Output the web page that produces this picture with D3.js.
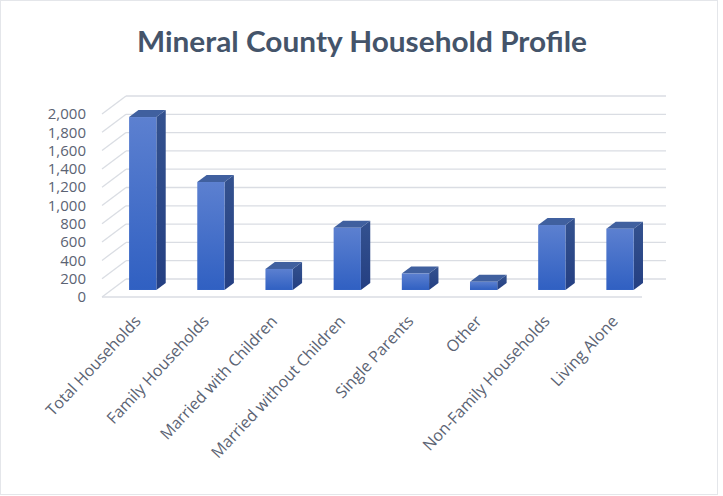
<!DOCTYPE html>
<html>
<head>
<meta charset="utf-8">
<script src="https://cdn.jsdelivr.net/npm/d3@7"></script>
<style>
  html, body { margin: 0; padding: 0; background: #ffffff; }
  svg { display: block; }
</style>
</head>
<body>
<svg id="chart" width="723" height="496"></svg>
<script>
// Household counts by type
const categories = [
  "Total Households", "Family Households", "Married with Children",
  "Married without Children", "Single Parents", "Other",
  "Non-Family Households", "Living Alone"
];
const households = [1890, 1180, 230, 680, 180, 90, 710, 670];
const yTicks = [0, 200, 400, 600, 800, 1000, 1200, 1400, 1600, 1800, 2000];
const titleText = "Mineral County Household Profile";

const W = 723, H = 496;
const svg = d3.select("#chart");

// Oblique projection: the floor's front edge, plus a depth vector to the back wall
const depth = { dx: 24, dy: -18 };
const barFront = 0.39;   // bars start this far into the floor
const barDepth = 0.39;   // and are this deep

const x = d3.scaleBand()
  .domain(categories)
  .range([102, 642])
  .paddingInner(0.6)
  .paddingOuter(0.26);

const y = d3.scaleLinear().domain([0, 2000]).range([297, 114]);

// Background frame
svg.append("rect")
  .attr("x", 0.5).attr("y", 0.5)
  .attr("width", W - 6).attr("height", H - 2)
  .attr("fill", "#ffffff")
  .attr("stroke", "#e4e6ea");

// Title
svg.append("text")
  .attr("x", 362).attr("y", 52)
  .attr("text-anchor", "middle")
  .attr("font-family", "Lato, 'Open Sans', sans-serif")
  .attr("font-weight", 700)
  .attr("font-size", 29)
  .attr("fill", "#44546a")
  .attr("textLength", 450)
  .attr("lengthAdjust", "spacingAndGlyphs")
  .text(titleText);

const grid = svg.append("g")
  .attr("stroke", "#dadde3")
  .attr("stroke-width", 1.3)
  .attr("fill", "none");

const [x0, x1] = x.range();

// Back wall gridlines
grid.selectAll("line.back")
  .data(yTicks)
  .join("line")
  .attr("class", "back")
  .attr("x1", x0 + depth.dx).attr("x2", x1 + depth.dx)
  .attr("y1", d => y(d) + depth.dy).attr("y2", d => y(d) + depth.dy);

// Side wall gridlines
grid.selectAll("line.side")
  .data(yTicks)
  .join("line")
  .attr("class", "side")
  .attr("x1", x0).attr("x2", x0 + depth.dx)
  .attr("y1", d => y(d)).attr("y2", d => y(d) + depth.dy);

// Floor front edge
grid.append("line")
  .attr("x1", x0).attr("x2", x1)
  .attr("y1", y(0)).attr("y2", y(0));

// Value axis labels
svg.append("g")
  .selectAll("text")
  .data(yTicks)
  .join("text")
  .attr("x", 86)
  .attr("y", d => y(d))
  .attr("dy", "0.35em")
  .attr("text-anchor", "end")
  .attr("font-family", "'Open Sans', sans-serif")
  .attr("font-size", 15)
  .attr("fill", "#5b6373")
  .text(d3.format(","));

// Bar gradients
const defs = svg.append("defs");
const gFront = defs.append("linearGradient").attr("id", "front")
  .attr("x1", 0).attr("y1", 0).attr("x2", 0).attr("y2", 1);
gFront.append("stop").attr("offset", "0%").attr("stop-color", "#5c80d0");
gFront.append("stop").attr("offset", "100%").attr("stop-color", "#3060c2");
const gSide = defs.append("linearGradient").attr("id", "side")
  .attr("x1", 0).attr("y1", 0).attr("x2", 0).attr("y2", 1);
gSide.append("stop").attr("offset", "0%").attr("stop-color", "#34528f");
gSide.append("stop").attr("offset", "100%").attr("stop-color", "#243f82");

const fx = barFront * depth.dx, fy = barFront * depth.dy;
const bx = barDepth * depth.dx, by = barDepth * depth.dy;
const bw = x.bandwidth();

const bars = svg.append("g")
  .selectAll("g")
  .data(categories.map((c, i) => ({ c, v: households[i] })))
  .join("g");

// Side face
bars.append("path")
  .attr("fill", "url(#side)")
  .attr("d", d => {
    const l = x(d.c) + fx + bw, t = y(d.v) + fy, b = y(0) + fy;
    return `M${l},${t}L${l + bx},${t + by}L${l + bx},${b + by}L${l},${b}Z`;
  });

// Top face
bars.append("path")
  .attr("fill", "#40609f")
  .attr("d", d => {
    const l = x(d.c) + fx, t = y(d.v) + fy;
    return `M${l},${t}L${l + bw},${t}L${l + bw + bx},${t + by}L${l + bx},${t + by}Z`;
  });

// Front face
bars.append("rect")
  .attr("fill", "url(#front)")
  .attr("x", d => x(d.c) + fx)
  .attr("y", d => y(d.v) + fy)
  .attr("width", bw)
  .attr("height", d => y(0) - y(d.v));

// Category labels
svg.append("g")
  .selectAll("text")
  .data(categories)
  .join("text")
  .attr("transform", d => `translate(${x(d) + fx + bw / 2 - 1},${322}) rotate(-47)`)
  .attr("text-anchor", "end")
  .attr("font-family", "'Open Sans', sans-serif")
  .attr("font-size", 16)
  .attr("fill", "#5b6373")
  .text(d => d);
</script>
</body>
</html>
